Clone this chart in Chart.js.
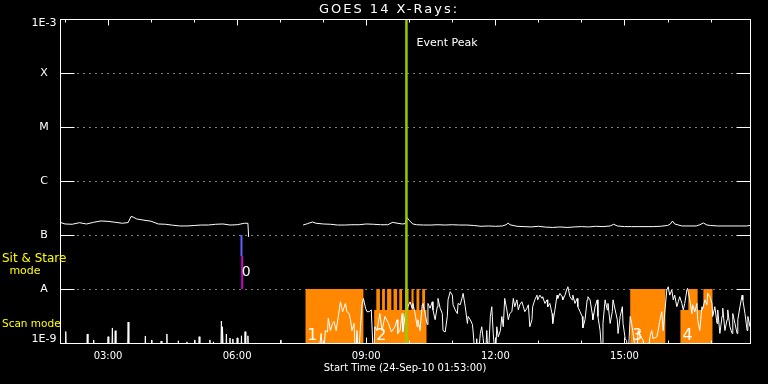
<!DOCTYPE html>
<html>
<head>
<meta charset="utf-8">
<title>GOES 14 X-Rays</title>
<script src="https://cdn.jsdelivr.net/npm/chart.js@4/dist/chart.umd.min.js"></script>
<style>
html, body { margin: 0; padding: 0; background: #000; }
canvas { display: block; background: #000; }
</style>
</head>
<body>
<canvas id="goes-chart" width="768" height="384"></canvas>
<script>
// flux below the 1E-9 floor of the plot (clipped at the bottom axis)
const FLOOR = 5e-10;

const chartTitle = 'GOES 14 X-Rays:';
const startTime = '01:53';
const endTime = '17:55';
const peakTime = '09:56';

const yTickValues = [1e-9, 1e-8, 1e-7, 1e-6, 1e-5, 1e-4, 1e-3];
const yTickLabels = ['1E-9', 'A', 'B', 'C', 'M', 'X', '1E-3'];
const xLabelTimes = ['03:00', '06:00', '09:00', '12:00', '15:00'];

// long channel (upper white trace), null = data gap
const longTimes = ['01:53','02:00','02:10','02:20','02:30','02:40','02:50','03:00','03:10','03:20',
    '03:28','03:32','03:35','03:40','03:50','04:00','04:10','04:20','04:30','04:40',
    '04:50','05:00','05:10','05:20','05:30','05:40','05:50','06:00','06:10','06:15',
    '06:16','06:50','07:32','07:38','07:45','07:50','08:00','08:10','08:20','08:30',
    '08:40','08:50','09:00','09:10','09:20','09:30','09:37','09:40','09:50','09:54',
    '09:57','10:00','10:05','10:10','10:20','10:30','10:40','10:50','11:00','11:10',
    '11:20','11:30','11:40','11:50','12:00','12:10','12:15','12:18','12:20','12:30',
    '12:40','12:50','13:00','13:10','13:20','13:30','13:40','13:50','14:00','14:10',
    '14:20','14:30','14:40','14:45','14:50','15:00','15:10','15:20','15:30','15:40',
    '15:50','16:00','16:04','16:07','16:10','16:20','16:30','16:40','16:45','16:50',
    '16:55','17:00','17:10','17:20','17:30','17:40','17:50','17:55'];
const longFlux = [1.72e-7,1.60e-7,1.58e-7,1.69e-7,1.60e-7,1.72e-7,1.82e-7,1.79e-7,1.72e-7,1.65e-7,
    1.70e-7,2.20e-7,2.15e-7,1.98e-7,1.88e-7,1.80e-7,1.60e-7,1.58e-7,1.52e-7,1.47e-7,
    1.47e-7,1.50e-7,1.53e-7,1.53e-7,1.58e-7,1.60e-7,1.53e-7,1.55e-7,1.65e-7,1.65e-7,
    9.2e-8,null,1.53e-7,1.62e-7,1.74e-7,1.65e-7,1.60e-7,1.58e-7,1.53e-7,1.53e-7,
    1.55e-7,1.55e-7,1.60e-7,1.58e-7,1.55e-7,1.55e-7,1.72e-7,1.68e-7,1.60e-7,1.62e-7,
    2.10e-7,1.85e-7,1.60e-7,1.55e-7,1.53e-7,1.53e-7,1.55e-7,1.53e-7,1.55e-7,1.53e-7,
    1.53e-7,1.50e-7,1.45e-7,1.47e-7,1.45e-7,1.47e-7,1.55e-7,1.67e-7,1.55e-7,1.45e-7,
    1.43e-7,1.41e-7,1.45e-7,1.40e-7,1.38e-7,1.41e-7,1.38e-7,1.41e-7,1.43e-7,1.41e-7,
    1.45e-7,1.43e-7,1.47e-7,1.58e-7,1.47e-7,1.43e-7,1.43e-7,1.43e-7,1.43e-7,1.43e-7,
    1.45e-7,1.50e-7,1.60e-7,1.82e-7,1.60e-7,1.47e-7,1.47e-7,1.47e-7,1.55e-7,1.67e-7,
    1.53e-7,1.50e-7,1.47e-7,1.47e-7,1.47e-7,1.47e-7,1.47e-7,1.50e-7];

// short channel: isolated spikes before the scan period
const spikeTimes = ['02:01','02:31','02:40','03:00','03:06','03:10','03:28','03:52','04:01','04:14',
    '04:22','04:38','04:50','05:01','05:07','05:22','05:27','05:38','05:40','05:45',
    '05:50','05:54','06:00','06:06','06:11','06:15','07:01'];
const spikeFlux = [1.63e-9,1.47e-9,1.14e-9,1.31e-9,1.9e-9,1.69e-9,2.45e-9,1.35e-9,1.14e-9,1.09e-9,
    1.47e-9,1.1e-9,1.05e-9,1.14e-9,1.31e-9,1.14e-9,1.05e-9,2.55e-9,2.0e-9,1.47e-9,
    1.24e-9,1.19e-9,1.24e-9,1.36e-9,1.62e-9,1.36e-9,1.14e-9];

// short channel: noisy part
const scanTimes = [
    '07:28','07:53','07:57','08:00','08:03','08:06','08:07','08:10','08:13','08:15',
    '08:18','08:21','08:24','08:27','08:31','08:33','08:36','08:38','08:40','08:43',
    '08:45','08:47','08:49','08:52','08:54','08:56','08:59','09:01','09:04','09:07',
    '09:10','09:12','09:15','09:19','09:22','09:26','09:31','09:35','09:40','09:43',
    '09:44','09:47','09:50','09:51','09:54','09:58','10:01','10:04','10:05','10:08',
    '10:11','10:12','10:15','10:18','10:19','10:22','10:25','10:26','10:29','10:32',
    '10:33','10:36','10:39','10:40','10:43','10:46','10:47','10:50','10:53','10:54',
    '10:57','11:00','11:01','11:04','11:07','11:08','11:11','11:14','11:15','11:18',
    '11:21','11:22','11:25','11:28','11:29','11:32','11:34','11:36','11:39','11:41',
    '11:43','11:46','11:48','11:50','11:53','11:55','11:57','12:00','12:02','12:04',
    '12:07','12:09','12:11','12:13','12:16','12:18','12:20','12:23','12:25','12:27',
    '12:30','12:32','12:34','12:37','12:39','12:41','12:44','12:46','12:48','12:51',
    '12:52','12:55','12:58','12:59','13:02','13:05','13:06','13:09','13:12','13:13',
    '13:16','13:19','13:20','13:23','13:26','13:27','13:30','13:33','13:34','13:37',
    '13:40','13:41','13:44','13:47','13:48','13:51','13:54','13:55','13:58','14:01',
    '14:02','14:05','14:08','14:09','14:12','14:15','14:16','14:19','14:22','14:23',
    '14:26','14:29','14:30','14:33','14:36','14:37','14:40','14:43','14:44','14:47',
    '14:50','14:51','14:54','14:57','14:58','15:01','15:03','15:05','15:08','15:10',
    '15:12','15:17','15:19','15:22','15:26','15:31','15:36','15:38','15:40','15:45',
    '15:47','15:49','15:52','15:54','15:56','15:59','16:01','16:03','16:06','16:08',
    '16:10','16:13','16:15','16:17','16:20','16:22','16:24','16:27','16:28','16:31',
    '16:34','16:35','16:38','16:41','16:42','16:45','16:48','16:49','16:52','16:55',
    '16:56','16:59','17:02','17:03','17:06','17:09','17:10','17:13','17:16','17:17',
    '17:20','17:23','17:24','17:27','17:30','17:31','17:34','17:37','17:38','17:41',
    '17:44','17:45','17:48','17:51','17:52','17:55'];
const scanFlux = [
    FLOOR,FLOOR,1.5e-9,FLOOR,1.7e-9,1.6e-9,2.9e-9,1.7e-9,2.3e-9,2.5e-9,
    1.7e-9,3.1e-9,5.8e-9,3.8e-9,5.4e-9,3.8e-9,3.5e-9,2.7e-9,1.7e-9,2.3e-9,
    FLOOR,1.7e-9,FLOOR,2.0e-9,5.1e-9,6.7e-9,4.4e-9,3.8e-9,3.8e-9,4.1e-9,
    FLOOR,2.0e-9,1.7e-9,3.5e-9,1.7e-9,3.1e-9,2.3e-9,1.6e-9,2.0e-9,2.7e-9,
    1.5e-9,1.7e-9,3.5e-9,1.6e-9,3.1e-9,4.7e-9,5.8e-9,4.4e-9,5.4e-9,3.5e-9,
    2.0e-9,2.7e-9,1.7e-9,5.1e-9,5.4e-9,3.5e-9,2.2e-9,5.4e-9,4.4e-9,5.8e-9,
    4.1e-9,2.7e-9,4.7e-9,6.7e-9,4.4e-9,3.5e-9,1.7e-9,1.6e-9,3.1e-9,6.3e-9,
    8.9e-9,7.7e-9,5.1e-9,4.1e-9,3.5e-9,5.4e-9,5.1e-9,7.2e-9,8.3e-9,4.7e-9,
    2.3e-9,3.1e-9,2.7e-9,2.2e-9,1.6e-9,FLOOR,1.2e-9,FLOOR,1.5e-9,2.0e-9,
    1.2e-9,FLOOR,1.7e-9,FLOOR,3.1e-9,4.7e-9,1.5e-9,FLOOR,2.0e-9,1.3e-9,
    1.7e-9,3.1e-9,2.0e-9,6.7e-9,4.1e-9,2.7e-9,3.5e-9,3.8e-9,6.7e-9,4.7e-9,
    6.3e-9,4.1e-9,5.1e-9,5.8e-9,4.7e-9,3.8e-9,4.4e-9,5.1e-9,2.0e-9,2.7e-9,
    4.7e-9,6.3e-9,7.7e-9,6.3e-9,7.7e-9,6.7e-9,7.2e-9,5.4e-9,6.3e-9,4.7e-9,
    5.4e-9,3.5e-9,2.3e-9,4.1e-9,7.7e-9,6.7e-9,8.3e-9,7.2e-9,6.3e-9,7.7e-9,
    1.03e-8,1.1e-8,7.2e-9,6.3e-9,7.7e-9,5.4e-9,6.7e-9,4.7e-9,3.8e-9,3.1e-9,
    1.9e-9,2.7e-9,6.3e-9,7.2e-9,6.3e-9,3.5e-9,2.7e-9,4.7e-9,6.3e-9,3.1e-9,
    1.7e-9,FLOOR,2.3e-9,6.3e-9,4.1e-9,5.4e-9,2.3e-9,3.8e-9,6.3e-9,4.1e-9,
    2.7e-9,1.5e-9,3.1e-9,4.7e-9,2.3e-9,1.2e-9,1.1e-9,FLOOR,3.1e-9,2.3e-9,
    1.5e-9,FLOOR,1.7e-9,1.4e-9,1.1e-9,FLOOR,1.4e-9,1.7e-9,1.2e-9,1.3e-9,
    1.7e-9,2.5e-9,3.8e-9,1.7e-9,3.5e-9,9.6e-9,1.1e-8,7.7e-9,9.6e-9,6.3e-9,
    7.7e-9,4.7e-9,5.8e-9,7.2e-9,5.4e-9,4.1e-9,5.4e-9,9.6e-9,1.03e-8,6.3e-9,
    3.5e-9,5.1e-9,3.8e-9,5.4e-9,2.7e-9,1.7e-9,4.7e-9,4.1e-9,6.3e-9,5.1e-9,
    8.3e-9,7.2e-9,5.4e-9,3.1e-9,4.7e-9,2.3e-9,4.1e-9,1.5e-9,3.1e-9,4.4e-9,
    1.7e-9,2.7e-9,4.1e-9,2.0e-9,1.5e-9,3.5e-9,2.3e-9,1.5e-9,2.7e-9,4.7e-9,
    7.7e-9,6.3e-9,3.5e-9,1.7e-9,3.1e-9,2.0e-9];

// observing mode blocks (orange): level held until next time
const modeTimes = ['07:35','08:56','09:11','09:14','09:19','09:22','09:26','09:29','09:35','09:38',
    '09:43','09:46','09:50','09:54','09:59','10:03','10:06','10:10','10:14','10:18',
    '10:22','10:24','15:08','15:57','16:18','16:29','16:42','16:50','17:03'];
const modeFlux = [1e-8,1e-9,4.1e-9,1e-8,4.1e-9,1e-8,4.1e-9,1e-8,4.1e-9,1e-8,
    4.1e-9,1e-8,4.1e-9,1e-8,4.1e-9,1e-8,4.1e-9,1e-8,4.1e-9,1e-8,
    4.1e-9,1e-9,1e-8,1e-9,4.1e-9,1e-8,4.1e-9,1e-8,1e-9];
const modeLabels = ['1', '2', '3', '4'];
const modeLabelTimes = ['07:35', '09:11', '15:08', '16:18'];

// sit & stare marker
const sitStareTimes = ['06:06', '06:07'];
const sitStareTop = [1e-7, 4.1e-8];
const sitStareBottom = [4.1e-8, 1e-8];

const FONT = "'DejaVu Sans', sans-serif";

function toMinutes(t) {
    let parts = t.split(':').map(Number);
    return parts[0] * 60 + parts[1];
}

function toPoints(times, values) {
    return times.map((t, i) => ({ x: toMinutes(t), y: values[i] }));
}

let scanPoints = [];
spikeTimes.forEach(function(t, i) {
    let m = toMinutes(t);
    scanPoints.push({ x: m - 1, y: FLOOR }, { x: m, y: spikeFlux[i] }, { x: m + 1, y: FLOOR });
});
scanPoints = scanPoints.concat(toPoints(scanTimes, scanFlux));

let peakX = toMinutes(peakTime);

const frameLines = {
    id: 'frameLines',
    beforeDatasetsDraw(chart) {
        let { ctx, chartArea: a, scales: { y } } = chart;
        let L = Math.round(a.left) + 0.5, R = Math.round(a.right) + 0.5;
        ctx.save();
        ctx.strokeStyle = '#ffffff';
        ctx.lineWidth = 1;
        ctx.setLineDash([1, 5]);
        yTickValues.slice(1, -1).forEach(function(v) {
            let py = Math.round(y.getPixelForValue(v)) + 0.5;
            ctx.beginPath();
            ctx.moveTo(L + 17, py);
            ctx.lineTo(R - 14, py);
            ctx.stroke();
        });
        ctx.restore();
    },
    afterDatasetsDraw(chart) {
        let { ctx, chartArea: a, scales: { x, y } } = chart;
        let L = Math.round(a.left) + 0.5, R = Math.round(a.right) + 0.5;
        let T = Math.round(a.top) + 0.5, B = Math.round(a.bottom) + 0.5;
        ctx.save();
        ctx.strokeStyle = '#ffffff';
        ctx.lineWidth = 1;
        ctx.strokeRect(L, T, R - L, B - T);

        // hourly ticks on top and bottom
        for (let h = 2; h <= 17; h++) {
            let px = Math.round(x.getPixelForValue(h * 60)) + 0.5;
            let len = h % 3 === 0 ? 6 : 3;
            ctx.beginPath();
            ctx.moveTo(px, T); ctx.lineTo(px, T + len);
            ctx.moveTo(px, B); ctx.lineTo(px, B - len);
            ctx.stroke();
        }
        // solid stubs of the decade lines
        yTickValues.forEach(function(v) {
            let py = Math.round(y.getPixelForValue(v)) + 0.5;
            ctx.beginPath();
            ctx.moveTo(L, py); ctx.lineTo(L + 14, py);
            ctx.moveTo(R - 14, py); ctx.lineTo(R, py);
            ctx.stroke();
        });

        // title (wide spacing like the vector font)
        ctx.fillStyle = '#ffffff';
        ctx.font = '13px ' + FONT;
        ctx.textAlign = 'center';
        ctx.textBaseline = 'middle';
        ctx.letterSpacing = '2px';
        ctx.fillText(chartTitle, 389, 10);
        ctx.letterSpacing = '0px';

        // y labels
        ctx.font = '11px ' + FONT;
        yTickValues.forEach(function(v, i) {
            let py = y.getPixelForValue(v);
            py = Math.min(Math.max(py, a.top + 4), a.bottom - 4);
            ctx.fillText(yTickLabels[i], 44, py);
        });

        // mode captions
        ctx.fillStyle = '#ffff00';
        ctx.textAlign = 'left';
        ctx.font = '12px ' + FONT;
        ctx.fillText('Sit & Stare', 2, 259);
        ctx.font = '11px ' + FONT;
        ctx.textAlign = 'center';
        ctx.fillText('mode', 25, 271);
        ctx.textAlign = 'left';
        ctx.font = '10.5px ' + FONT;
        ctx.fillText('Scan mode', 2, 324);

        // event peak label
        ctx.fillStyle = '#ffffff';
        ctx.font = '11px ' + FONT;
        ctx.fillText('Event Peak', x.getPixelForValue(peakX) + 10, 43);

        // block numbers
        ctx.font = '16px ' + FONT;
        ctx.textBaseline = 'alphabetic';
        modeLabels.forEach(function(lbl, i) {
            ctx.fillText(lbl, x.getPixelForValue(toMinutes(modeLabelTimes[i])) + 2, a.bottom - 3);
        });

        // sit & stare number
        ctx.font = '14px ' + FONT;
        ctx.textAlign = 'center';
        ctx.textBaseline = 'middle';
        ctx.fillText('0', x.getPixelForValue(toMinutes(sitStareTimes[1])) + 4, 272);
        ctx.restore();
    }
};

new Chart(document.getElementById('goes-chart'), {
    type: 'line',
    data: {
        datasets: [
            {
                label: 'Event Peak',
                data: [{ x: peakX, y: 1e-9 }, { x: peakX, y: 1e-3 }],
                borderColor: '#99cc00',
                borderWidth: 2.5,
                pointRadius: 0
            },
            {
                label: 'Sit & Stare (upper)',
                data: [{ x: toMinutes(sitStareTimes[0]), y: sitStareTop[0] }, { x: toMinutes(sitStareTimes[0]), y: sitStareTop[1] }],
                borderColor: '#6060ff',
                borderWidth: 2,
                pointRadius: 0
            },
            {
                label: 'Sit & Stare (lower)',
                data: [{ x: toMinutes(sitStareTimes[1]), y: sitStareBottom[0] }, { x: toMinutes(sitStareTimes[1]), y: sitStareBottom[1] }],
                borderColor: '#cc00cc',
                borderWidth: 2,
                pointRadius: 0
            },
            {
                label: 'Long',
                data: toPoints(longTimes, longFlux),
                borderColor: '#ffffff',
                borderWidth: 1,
                pointRadius: 0,
                spanGaps: false
            },
            {
                label: 'Short',
                data: scanPoints,
                borderColor: '#ffffff',
                borderWidth: 1,
                pointRadius: 0
            },
            {
                label: 'Mode',
                data: toPoints(modeTimes, modeFlux),
                stepped: 'before',
                fill: 'start',
                backgroundColor: '#ff8800',
                borderWidth: 0,
                pointRadius: 0
            }
        ]
    },
    options: {
        responsive: false,
        animation: false,
        events: [],
        layout: { padding: { left: 0, right: 18, top: 19, bottom: 0 } },
        scales: {
            x: {
                type: 'linear',
                min: toMinutes(startTime),
                max: toMinutes(endTime),
                grid: { display: false, drawTicks: false },
                border: { display: false },
                afterBuildTicks: function(scale) {
                    scale.ticks = xLabelTimes.map(t => ({ value: toMinutes(t) }));
                },
                afterFit: function(scale) { scale.height = 41; },
                ticks: {
                    color: '#ffffff',
                    font: { family: FONT, size: 10 },
                    padding: 7,
                    autoSkip: false,
                    maxRotation: 0,
                    callback: function(value) {
                        let i = xLabelTimes.map(toMinutes).indexOf(value);
                        return i >= 0 ? xLabelTimes[i] : '';
                    }
                },
                title: {
                    display: true,
                    text: 'Start Time (24-Sep-10 01:53:00)',
                    color: '#ffffff',
                    font: { family: FONT, size: 10 },
                    padding: { top: 0, bottom: 10 }
                }
            },
            y: {
                type: 'logarithmic',
                min: 1e-9,
                max: 1e-3,
                grid: { display: false, drawTicks: false },
                border: { display: false },
                ticks: { display: false },
                afterFit: function(scale) { scale.width = 60; }
            }
        },
        plugins: {
            legend: { display: false },
            tooltip: { enabled: false },
            title: { display: false }
        }
    },
    plugins: [frameLines]
});
</script>
</body>
</html>
